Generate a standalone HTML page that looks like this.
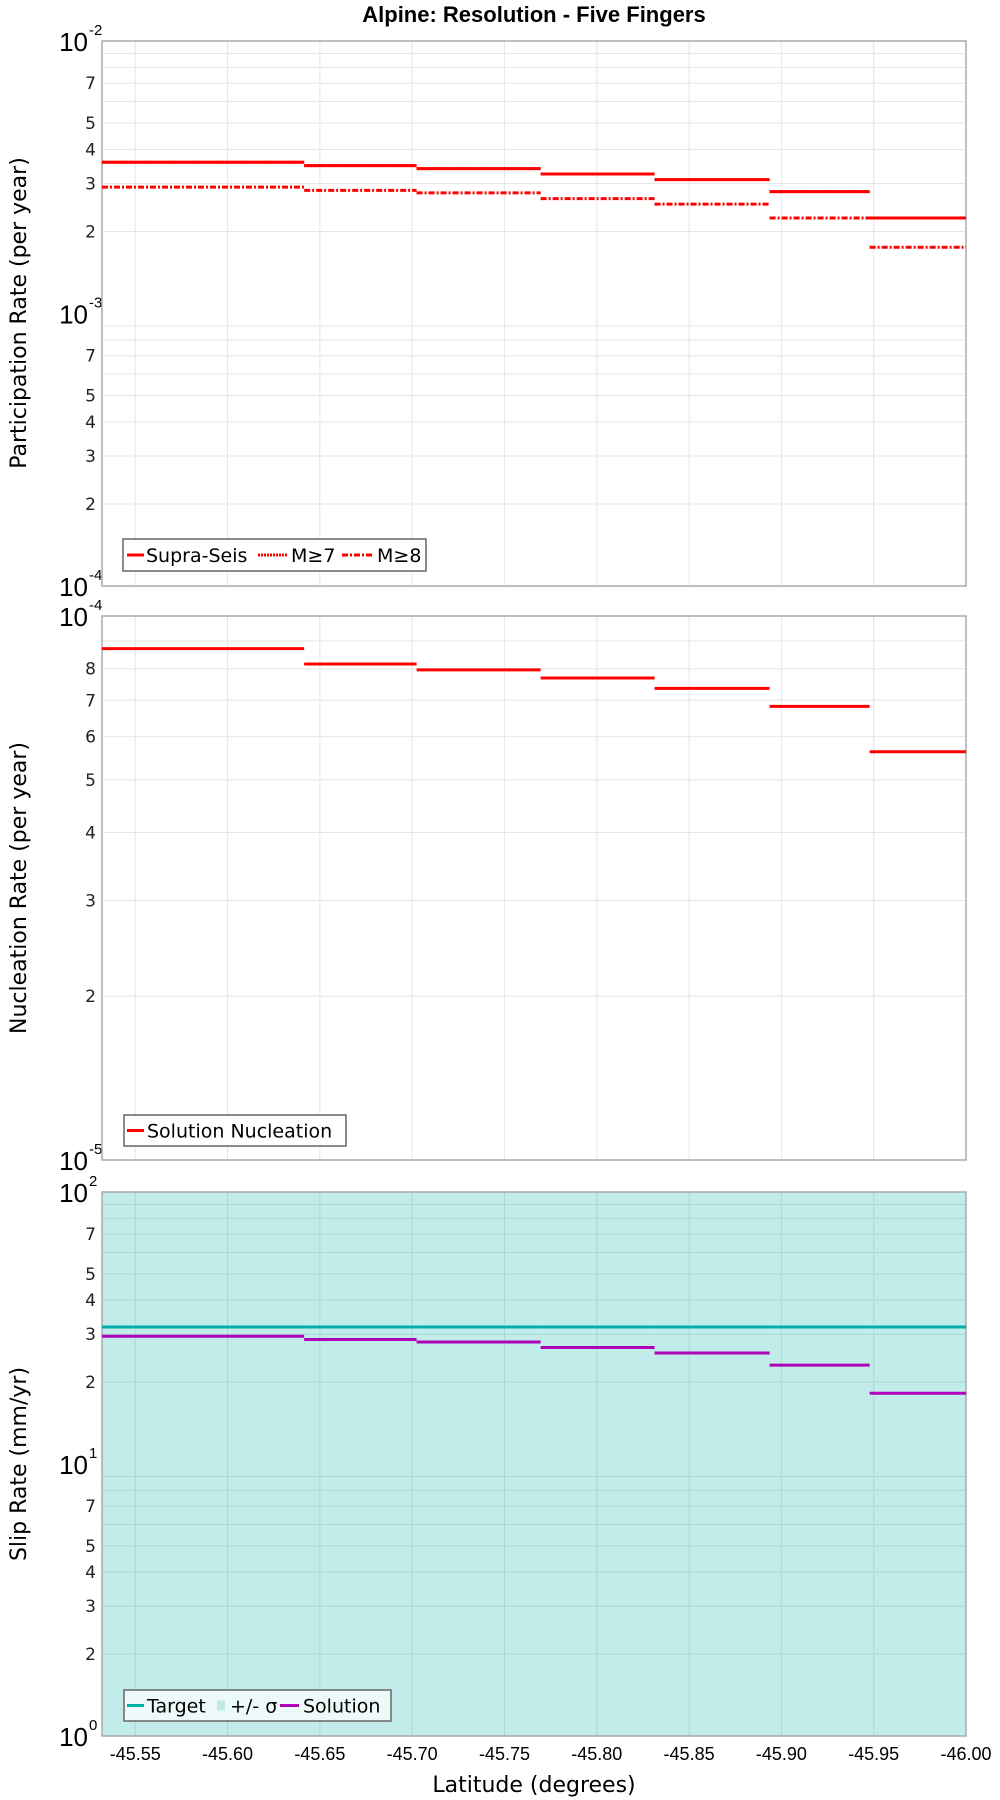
<!DOCTYPE html>
<html><head><meta charset="utf-8"><style>
html,body{margin:0;padding:0;background:#fff;}
svg{display:block;font-family:"Liberation Sans","DejaVu Sans",sans-serif;}
</style></head><body>
<svg id="chart" width="1000" height="1800" viewBox="0 0 1000 1800"></svg>
<script>
const binEdges = [-45.532, -45.6415, -45.7024, -45.7696, -45.8313, -45.8936, -45.9478, -46.000];
const xTicks = [-45.55, -45.60, -45.65, -45.70, -45.75, -45.80, -45.85, -45.90, -45.95, -46.00];
const xTickLabels = ["-45.55","-45.60","-45.65","-45.70","-45.75","-45.80","-45.85","-45.90","-45.95","-46.00"];
const supraSeis = [3.59e-3, 3.49e-3, 3.40e-3, 3.25e-3, 3.10e-3, 2.80e-3, 2.24e-3];
const m7 = [3.59e-3, 3.49e-3, 3.40e-3, 3.25e-3, 3.10e-3, 2.80e-3, 2.24e-3];
const m8 = [2.91e-3, 2.83e-3, 2.77e-3, 2.64e-3, 2.52e-3, 2.24e-3, 1.75e-3];
const nucleation = [8.71e-5, 8.16e-5, 7.96e-5, 7.69e-5, 7.36e-5, 6.82e-5, 5.63e-5];
const target = [31.9, 31.9, 31.9, 31.9, 31.9, 31.9, 31.9];
const solution = [29.5, 28.7, 28.1, 26.8, 25.6, 23.1, 18.2];

const NS = "http://www.w3.org/2000/svg";
const svg = document.getElementById("chart");
const L = 102, R = 966;
const xMin = -45.532, xMax = -46.0;
function xs(v){ return L + (v - xMin) / (xMax - xMin) * (R - L); }
function mk(tag, attrs, parent){
  const e = document.createElementNS(NS, tag);
  for (const k in attrs) e.setAttribute(k, attrs[k]);
  (parent || svg).appendChild(e);
  return e;
}
function panel(name, top, bot, dMin, dMax, bg, gridCol){
  const ys = v => bot - (Math.log10(v) - dMin) / (dMax - dMin) * (bot - top);
  const g = mk("g", {});
  
  
  const r = mk("rect", {x:L, y:top, width:R-L, height:bot-top, fill:bg, stroke:"none"}, g);
  
  
  for (const t of xTicks){
    const l = mk("line", {x1:xs(t), x2:xs(t), y1:top, y2:bot, stroke:gridCol, "stroke-width":1}, g);
    
    
  }
  for (let d = dMin; d < dMax; d++){
    for (let m = 2; m <= 9; m++){
      const y = ys(m * Math.pow(10, d));
      const l = mk("line", {x1:L, x2:R, y1:y, y2:y, stroke:gridCol, "stroke-width":1}, g);
      
      
      if ([2,3,4,5,7].includes(m) || (dMax - dMin === 1 && m <= 8)){
        const tx = mk("text", {x:96, y:y+6, "font-size":17, "text-anchor":"end", fill:"#222", "font-family":"DejaVu Sans, sans-serif"}, g);
        tx.textContent = m;
        
        
      }
    }
  }
  for (let d = dMin; d <= dMax; d++){
    const y = ys(Math.pow(10, d));
    const tx = mk("text", {x:88, y:y+10, "font-size":26, "text-anchor":"end", fill:"#000"}, g);
    tx.textContent = "10";
    
    
    const ex = mk("text", {x:89, y:y-6, "font-size":15, "text-anchor":"start", fill:"#000"}, g);
    ex.textContent = String(d);
    
    
  }
  const b = mk("rect", {x:L, y:top, width:R-L, height:bot-top, fill:"none", stroke:"#aaa", "stroke-width":1.5}, g);
  
  
  return {g, ys};
}
function steps(p, vals, color, dash, name){
  for (let i = 0; i < vals.length; i++){
    const y = p.ys(vals[i]);
    const a = {x1:xs(binEdges[i]), x2:xs(binEdges[i+1]), y1:y, y2:y, stroke:color, "stroke-width":3};
    if (dash) a["stroke-dasharray"] = dash;
    const l = mk("line", a, p.g);
    
    
  }
}
function yTitle(text, cy, name){
  const t = mk("text", {x:0, y:0, "font-size":22, "text-anchor":"middle", fill:"#000", "font-family":"DejaVu Sans, sans-serif", transform:`translate(26,${cy}) rotate(-90)`});
  t.textContent = text;
  
  
}
function legend(x, y, w, h, items, bg, name){
  const g = mk("g", {});
  
  
  const r = mk("rect", {x, y, width:w, height:h, fill:bg, stroke:"#666", "stroke-width":1.5}, g);
  
  
  for (const it of items){
    let s;
    if (it.swatch === "box") s = mk("rect", {x:it.sx, y:y+h/2-5, width:it.sw, height:10, fill:it.color}, g);
    else {
      const a = {x1:it.sx, x2:it.sx+it.sw, y1:y+h/2, y2:y+h/2, stroke:it.color, "stroke-width":3};
      if (it.dash) a["stroke-dasharray"] = it.dash;
      s = mk("line", a, g);
    }
    
    
    const t = mk("text", {x:it.tx, y:y+h/2+7, "font-size":19, fill:"#000", "font-family":"DejaVu Sans, sans-serif"}, g);
    t.textContent = it.label;
    
    
  }
}

const title = mk("text", {x:534, y:22, "font-size":22, "font-weight":"bold", "text-anchor":"middle", fill:"#000"});
title.textContent = "Alpine: Resolution - Five Fingers";



const p1 = panel("participation-panel", 41, 586, -4, -2, "#fff", "#e6e6e6");
steps(p1, supraSeis, "#f00", null, "supra-seis");
steps(p1, m7, "#f00", "2,1", "m7");
steps(p1, m8, "#f00", "6,2,2,2", "m8");
yTitle("Participation Rate (per year)", 313, "participation-y-title");
legend(123, 539, 303, 32, [
  {label:"Supra-Seis", color:"#f00", sx:127, sw:17, tx:146},
  {label:"M≥7", color:"#f00", dash:"2,1", sx:258, sw:29, tx:291},
  {label:"M≥8", color:"#f00", dash:"6,2,2,2", sx:342, sw:31, tx:377}], "#fff", "participation-legend");

const p2 = panel("nucleation-panel", 616, 1160, -5, -4, "#fff", "#e6e6e6");
steps(p2, nucleation, "#f00", null, "nucleation");
yTitle("Nucleation Rate (per year)", 888, "nucleation-y-title");
legend(124, 1115, 222, 31, [{label:"Solution Nucleation", color:"#f00", sx:127, sw:17, tx:147}], "#fff", "nucleation-legend");

const p3 = panel("slip-rate-panel", 1192, 1736, 0, 2, "#c2ecea", "#a8d8d6");
steps(p3, target, "#00b0a8", null, "target");
steps(p3, solution, "#b000b8", null, "solution");
yTitle("Slip Rate (mm/yr)", 1464, "slip-rate-y-title");
legend(124, 1690, 267, 31, [
  {label:"Target", color:"#00b0a8", sx:127, sw:17, tx:147},
  {label:"+/- σ", color:"#bfeae8", swatch:"box", sx:217, sw:8, tx:230},
  {label:"Solution", color:"#b000b8", sx:280, sw:19, tx:303}], "#eefaf9", "slip-rate-legend");

for (let i = 0; i < xTicks.length; i++){
  const t = mk("text", {x:xs(xTicks[i]), y:1760, "font-size":18, "text-anchor":"middle", fill:"#000"});
  t.textContent = xTickLabels[i];
  
  
}
const xt = mk("text", {x:534, y:1792, "font-size":22, "text-anchor":"middle", fill:"#000", "font-family":"DejaVu Sans, sans-serif"});
xt.textContent = "Latitude (degrees)";


</script>
</body></html>
